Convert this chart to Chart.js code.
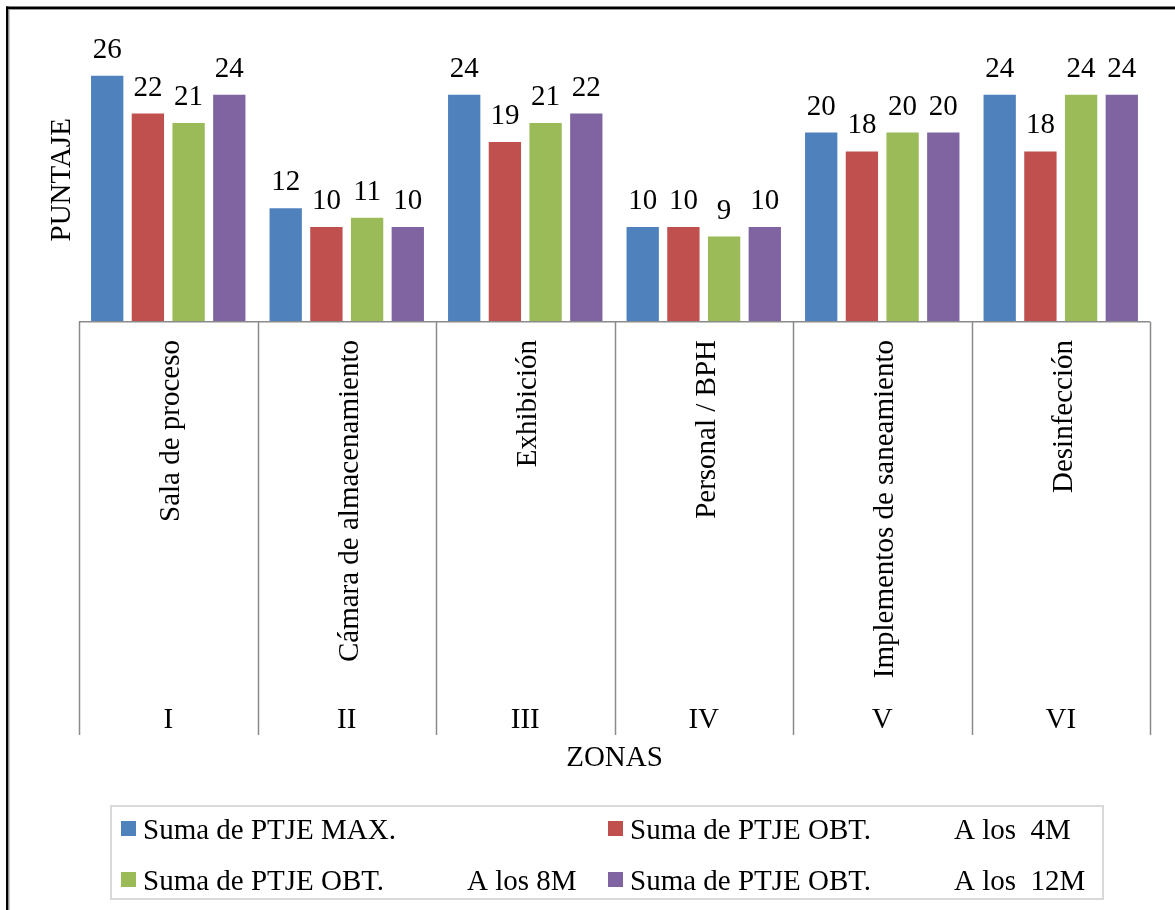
<!DOCTYPE html>
<html>
<head>
<meta charset="utf-8">
<script src="https://cdn.jsdelivr.net/npm/chart.js@4.4.1/dist/chart.umd.min.js"></script>
<style>
  html, body { margin: 0; padding: 0; background: #ffffff; }
  #wrap { width: 1175px; height: 910px; }
</style>
</head>
<body>
<div id="wrap"><canvas id="c" width="1175" height="910"></canvas></div>
<script>
// Zones and the area each one covers
const zonas = ["I", "II", "III", "IV", "V", "VI"];
const areas = ["Sala de proceso", "Cámara de almacenamiento", "Exhibición", "Personal / BPH", "Implementos de saneamiento", "Desinfección"];

// Scores per zone
const ptjeMax = [26, 12, 24, 10, 20, 24];
const ptjeObt4M = [22, 10, 19, 10, 18, 18];
const ptjeObt8M = [21, 11, 21, 9, 20, 24];
const ptjeObt12M = [24, 10, 22, 10, 20, 24];

// Legend text: a tab separates the second, column-aligned part
const seriesNames = [
  "Suma de PTJE MAX.",
  "Suma de PTJE OBT.\tA los  4M",
  "Suma de PTJE OBT.\tA los 8M",
  "Suma de PTJE OBT.\tA los  12M"
];
const seriesColors = ["#4F81BD", "#C0504D", "#9BBB59", "#8064A2"];

const yTitle = "PUNTAJE";
const xTitle = "ZONAS";
const FONT = "29px 'Liberation Serif', 'Times New Roman', serif";
const AXIS_GREY = "#8a8a8a";

const decorations = {
  id: "decorations",
  beforeDraw(chart) {
    const ctx = chart.ctx;
    ctx.save();
    ctx.fillStyle = "#ffffff";
    ctx.fillRect(0, 0, chart.width, chart.height);
    ctx.restore();
  },
  afterDatasetsDraw(chart) {
    // value labels above each bar
    const ctx = chart.ctx;
    ctx.save();
    ctx.font = FONT;
    ctx.fillStyle = "#000000";
    ctx.textAlign = "center";
    ctx.textBaseline = "alphabetic";
    chart.data.datasets.forEach((ds, di) => {
      const meta = chart.getDatasetMeta(di);
      meta.data.forEach((bar, i) => {
        ctx.fillText(String(ds.data[i]), bar.x, bar.y - 18);
      });
    });
    ctx.restore();
  },
  afterDraw(chart) {
    const ctx = chart.ctx;
    const area = chart.chartArea;
    const xs = chart.scales.x;
    const catW = xs.getPixelForValue(1) - xs.getPixelForValue(0);
    const base = area.bottom;
    const axisBottom = 735;

    ctx.save();
    // category axis: top rule and column separators
    ctx.strokeStyle = AXIS_GREY;
    ctx.lineWidth = 1.5;
    ctx.beginPath();
    ctx.moveTo(area.left, base);
    ctx.lineTo(area.right, base);
    for (let i = 0; i <= zonas.length; i++) {
      const x = Math.round(xs.getPixelForValue(0) - catW / 2 + i * catW) + 0.5;
      ctx.moveTo(x, base);
      ctx.lineTo(x, axisBottom);
    }
    ctx.stroke();

    ctx.font = FONT;
    ctx.fillStyle = "#000000";
    // area names, rotated
    areas.forEach((name, i) => {
      const cx = xs.getPixelForValue(i);
      ctx.save();
      ctx.translate(cx, 340);
      ctx.rotate(-Math.PI / 2);
      ctx.textAlign = "right";
      ctx.textBaseline = "alphabetic";
      ctx.fillText(name, 0, 11);
      ctx.restore();
    });
    // zone numerals
    ctx.textAlign = "center";
    ctx.textBaseline = "alphabetic";
    zonas.forEach((z, i) => {
      ctx.fillText(z, xs.getPixelForValue(i), 728);
    });
    // axis titles
    ctx.fillText(xTitle, (area.left + area.right) / 2, 766);
    ctx.save();
    ctx.translate(70, (area.top + area.bottom) / 2);
    ctx.rotate(-Math.PI / 2);
    ctx.textAlign = "center";
    ctx.fillText(yTitle, 0, 0);
    ctx.restore();

    // legend box
    ctx.strokeStyle = "#d9d9d9";
    ctx.lineWidth = 2;
    ctx.strokeRect(111, 806, 992, 93);
    const colX = [121, 608];
    const rowY = [828.5, 879.5];
    chart.data.datasets.forEach((ds, i) => {
      const c = i % 2, r = Math.floor(i / 2);
      const sx = colX[c], cy = rowY[r];
      ctx.fillStyle = ds.backgroundColor;
      ctx.fillRect(sx, cy - 7.5, 15, 15);
      ctx.fillStyle = "#000000";
      ctx.textAlign = "left";
      const parts = ds.label.split("\t");
      const tx = sx + 22;
      ctx.fillText(parts[0], tx, cy + 10);
      if (parts[1]) ctx.fillText(parts[1], tx + 324, cy + 10);
    });

    // outer frame
    ctx.fillStyle = "#000000";
    ctx.fillRect(6, 6.5, chart.width - 6, 2.5);
    ctx.fillRect(6, 6.5, 2.5, chart.height - 6.5);
    ctx.fillStyle = "#9a9a9a";
    ctx.fillRect(8.5, 9, chart.width - 8.5, 1);
    ctx.fillRect(8.5, 9, 1, chart.height - 9);
    ctx.restore();
  }
};

const seriesData = [ptjeMax, ptjeObt4M, ptjeObt8M, ptjeObt12M];

new Chart(document.getElementById("c"), {
  type: "bar",
  data: {
    labels: zonas,
    datasets: seriesData.map((d, i) => ({
      label: seriesNames[i],
      data: d,
      backgroundColor: seriesColors[i],
      borderWidth: 0,
      categoryPercentage: 0.912,
      barPercentage: 0.794
    }))
  },
  options: {
    responsive: false,
    devicePixelRatio: 1,
    animation: false,
    layout: { padding: { left: 79, right: 25, top: 37.9, bottom: 588.3 } },
    plugins: {
      legend: { display: false },
      tooltip: { enabled: false },
      title: { display: false }
    },
    scales: {
      x: { display: false, offset: true },
      y: { display: false, min: 0, max: 30 }
    }
  },
  plugins: [decorations]
});
</script>
</body>
</html>
